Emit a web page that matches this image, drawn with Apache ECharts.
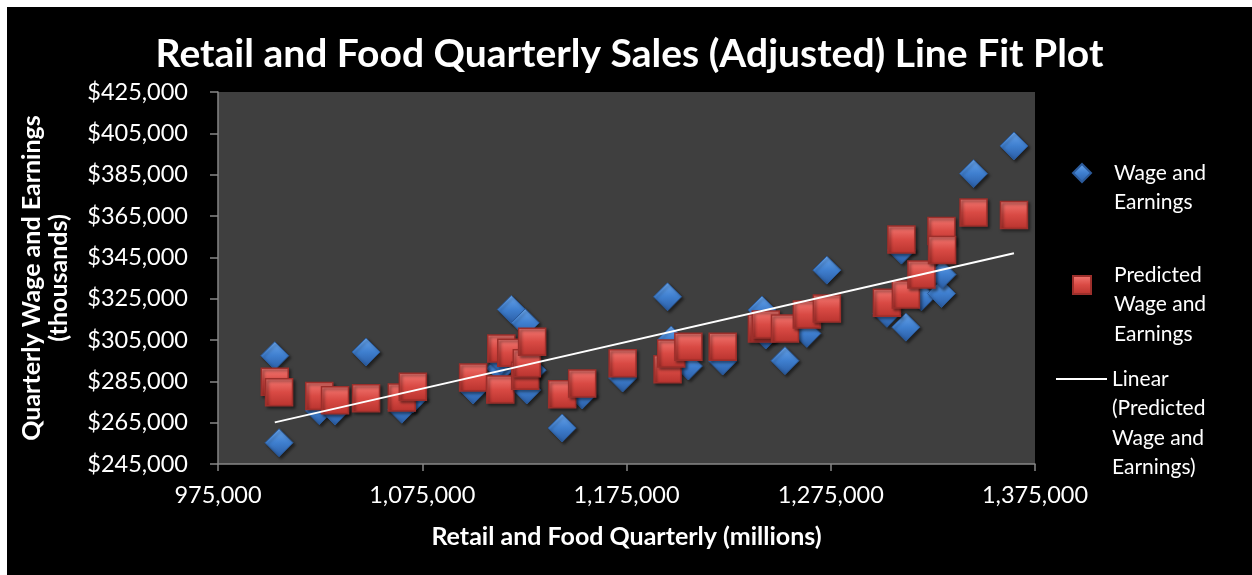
<!DOCTYPE html>
<html><head><meta charset="utf-8">
<script src="https://cdn.jsdelivr.net/npm/echarts@6/dist/echarts.min.js"></script>
<style>
html,body{margin:0;padding:0;background:#fff;width:1252px;height:575px;overflow:hidden}
#c{position:absolute;left:7px;top:7px;width:1245px;height:568px;background:#000}
</style>
</head><body><div id="c"></div>
<script>
// ---- data ----
const retailSales = [1002800,1004900,1024600,1032300,1047500,1065000,1070400,1099900,1113200,1113700,
  1118600,1125400,1126200,1128800,1143500,1153300,1173100,1195100,1196900,1205300,
  1222100,1241300,1243200,1252600,1263300,1273100,1302500,1309600,1311800,1319400,
  1329200,1329500,1344900,1364700];
const wageActual = [297400,255300,270800,270600,299200,271500,276500,280800,291300,295300,
  319800,313300,280800,290400,262400,278400,286600,325900,305000,292400,
  294800,319500,307400,295000,308200,338800,317900,348500,311200,325900,
  327500,336700,385500,398900];
const wagePredicted = [284800,279700,277900,275900,276800,277200,282400,286900,281100,300900,
  298800,287700,293700,304100,278700,284000,293700,290800,298500,301700,
  301700,310600,312500,310600,317300,320200,323000,353600,327000,336700,
  357700,348500,366700,365500];
const xTicks = [975000,1075000,1175000,1275000,1375000];
const yTicks = [245000,265000,285000,305000,325000,345000,365000,385000,405000,425000];
const seriesNames = ['Wage and Earnings','Predicted Wage and Earnings','Linear (Predicted Wage and Earnings)'];
const legendLines = [['Wage and','Earnings'],['Predicted','Wage and','Earnings'],['Linear','(Predicted','Wage and','Earnings)']];

// ---- helpers ----
const FONT = 'Lato';
function fmt(v){ return String(v).replace(/\B(?=(\d{3})+(?!\d))/g, ','); }
function linFit(xs, ys){
  const n = xs.length;
  let mx=0,my=0; for(let i=0;i<n;i++){mx+=xs[i];my+=ys[i];} mx/=n; my/=n;
  let sxx=0,sxy=0; for(let i=0;i<n;i++){sxx+=(xs[i]-mx)*(xs[i]-mx); sxy+=(xs[i]-mx)*(ys[i]-my);}
  const b=sxy/sxx, a=my-b*mx; return {a,b};
}
const fit = linFit(retailSales, wagePredicted);
const xMin = Math.min(...retailSales), xMax = Math.max(...retailSales);
const trend = [[xMin, fit.a+fit.b*xMin],[xMax, fit.a+fit.b*xMax]];

const blueFill = new echarts.graphic.LinearGradient(0,0,0,1,[{offset:0,color:'#6aa6ec'},{offset:0.5,color:'#3f7fcf'},{offset:1,color:'#2a5ca3'}]);
const redFill = new echarts.graphic.LinearGradient(0,0,0,1,[{offset:0,color:'#f47a74'},{offset:0.5,color:'#d94a44'},{offset:1,color:'#b8332e'}]);

const LH = 29.5;
function mkLegend(i, left, top, iw, ih, spacer, padLeft, icon){
  const item = icon ? {name:seriesNames[i], icon} : seriesNames[i];
  return {
    data:[item], left, top, padding:0, orient:'vertical', selectedMode:false,
    itemWidth:iw, itemHeight:ih,
    formatter: () => '{s| }\n' + legendLines[i].map(t => '{t|' + t + '}').join('\n'),
    textStyle:{
      color:'#fff', fontFamily:FONT, fontSize:21, padding:[0,0,0,padLeft],
      rich:{
        s:{fontSize:4, lineHeight:spacer, height:spacer},
        t:{color:'#fff', fontFamily:FONT, fontSize:21, lineHeight:LH}
      }
    }
  };
}

const chart = echarts.init(document.getElementById('c'), null, {renderer:'canvas'});
chart.setOption({
  backgroundColor:'#000',
  animation:false,
  title:{
    text:'Retail and Food Quarterly Sales (Adjusted) Line Fit Plot',
    left:'center', top:23,
    textStyle:{color:'#fff', fontFamily:FONT, fontWeight:'bold', fontSize:39}
  },
  grid:{left:211, top:85, width:817, height:372, show:true, backgroundColor:'#3f3f3f', borderWidth:0},
  xAxis:{
    type:'value', min:975000, max:1375000,
    name:'Retail and Food Quarterly (millions)', nameLocation:'middle', nameGap:60,
    nameTextStyle:{color:'#fff', fontFamily:FONT, fontWeight:'bold', fontSize:25},
    axisLine:{show:true, lineStyle:{color:'#868686', width:1.5}},
    axisTick:{show:true, length:7, customValues:xTicks, lineStyle:{color:'#868686', width:1.5}},
    axisLabel:{color:'#fff', fontFamily:FONT, fontSize:23.5, margin:19, customValues:xTicks, formatter:v=>fmt(v)},
    splitLine:{show:false}
  },
  yAxis:{
    type:'value', min:245000, max:425000,
    name:'Quarterly Wage and Earnings\n(thousands)', nameLocation:'middle', nameGap:146,
    nameTextStyle:{color:'#fff', fontFamily:FONT, fontWeight:'bold', fontSize:25, lineHeight:27},
    axisLine:{show:true, lineStyle:{color:'#868686', width:1.5}},
    axisTick:{show:true, length:8, customValues:yTicks, lineStyle:{color:'#868686', width:1.5}},
    axisLabel:{color:'#fff', fontFamily:FONT, fontSize:23.5, margin:30, customValues:yTicks, formatter:v=>'$'+fmt(v)},
    splitLine:{show:false}
  },
  legend:[
    mkLegend(0, 1065, 121.75, 18, 18, 29.5, 18),
    mkLegend(1, 1065, 214.25, 18, 18, 39, 18),
    mkLegend(2, 1049, 268.75, 51, 2, 88.5, 0, 'rect')
  ],
  series:[
    {name:seriesNames[0], type:'scatter', symbol:'diamond', symbolSize:28,
     data: retailSales.map((x,i)=>[x, wageActual[i]]),
     itemStyle:{color:blueFill, borderColor:'#2b5a9a', borderWidth:1, shadowBlur:3, shadowOffsetX:2, shadowOffsetY:2, shadowColor:'rgba(0,0,0,0.5)', opacity:1},
     emphasis:{disabled:true}},
    {name:seriesNames[1], type:'scatter', symbol:'rect', symbolSize:27,
     data: retailSales.map((x,i)=>[x, wagePredicted[i]]),
     itemStyle:{color:redFill, borderColor:'#9c2f2b', borderWidth:1.5, shadowBlur:3, shadowOffsetX:2, shadowOffsetY:2, shadowColor:'rgba(0,0,0,0.5)', opacity:1},
     emphasis:{disabled:true}},
    {name:seriesNames[2], type:'line', symbol:'none', data:trend,
     lineStyle:{color:'#fff', width:2}, itemStyle:{color:'#fff'}, emphasis:{disabled:true}, z:5}
  ]
});
</script></body></html>
